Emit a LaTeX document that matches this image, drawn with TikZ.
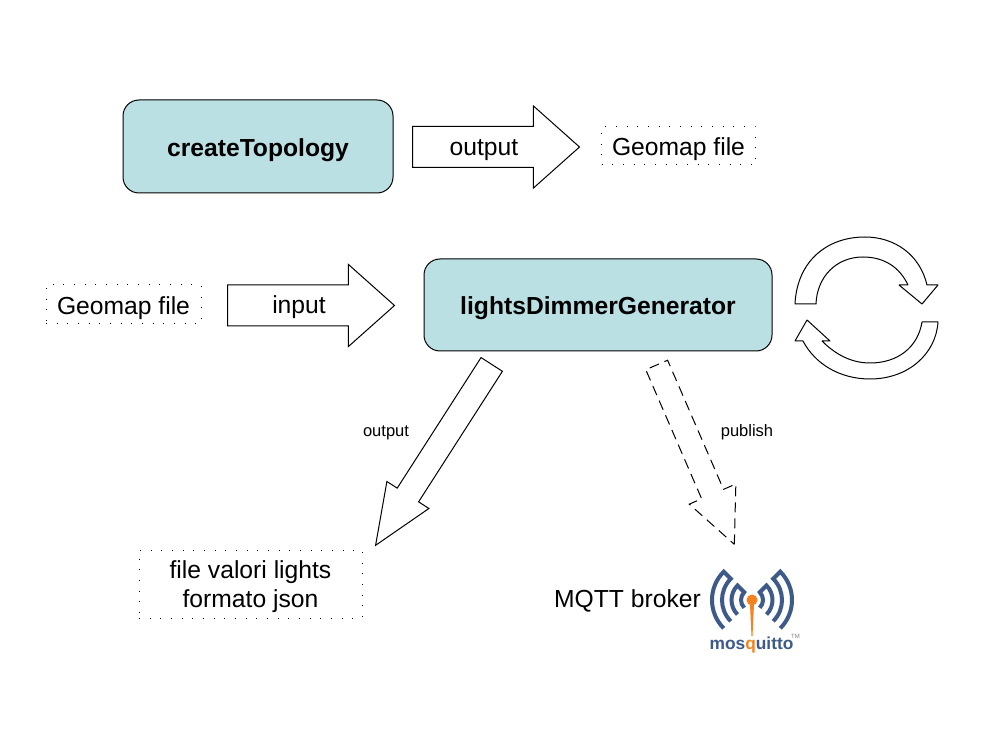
\documentclass[tikz,border=0pt]{standalone}
\usepackage{fontspec}
\setmainfont{Liberation Sans}
\usetikzlibrary{shapes.arrows}
\definecolor{boxfill}{HTML}{BBE0E3}
\definecolor{mosqblue}{HTML}{3D5A8A}
\definecolor{mosqorange}{HTML}{F58220}
\newcommand{\mosqside}{%
  (135:40) arc[start angle=135,end angle=225,radius=40]
  -- (225:30) arc[start angle=225,end angle=135,radius=30]
  (135:20.5) arc[start angle=135,end angle=225,radius=20.5]
  -- (225:11) arc[start angle=225,end angle=135,radius=11]}
\tikzset{
  process/.style={draw=black,fill=boxfill,line width=0.75pt,rounded corners=12pt,inner sep=0pt,
    font=\fontsize{18.5pt}{22pt}\selectfont\bfseries,text height=15pt,text depth=0pt},
  dotbox/.style={draw=black,line width=0.75pt,dash pattern=on 0.75pt off 7.25pt,inner sep=0pt,
    font=\fontsize{18.5pt}{22pt}\selectfont,text height=15pt,text depth=0pt},
  bigtext/.style={font=\fontsize{18.5pt}{22pt}\selectfont,inner sep=0pt,anchor=base},
  smalltext/.style={font=\fontsize{12.4pt}{15pt}\selectfont,inner sep=0pt,anchor=base},
  blockarrow/.style={shape=single arrow,draw=black,fill=white,line width=0.75pt,inner sep=0pt,anchor=tail},
  wide/.style={blockarrow,minimum height=125.25pt,
    single arrow head extend=15.4pt,single arrow tip angle=83.4},
  looparrow/.style={draw=black,fill=white,line width=0.75pt,line join=round}
}
\begin{document}
\begin{tikzpicture}[x=0.75pt,y=-0.75pt]
\useasboundingbox[fill=white] (0,0) rectangle (983,738);
% main boxes
\node[process,minimum width=202.5pt,minimum height=69.75pt] (topo) at (258,146.5) {createTopology};
\node[process,minimum width=261pt,minimum height=69pt] (gen) at (598,305) {lightsDimmerGenerator};
% dotted boxes
\node[dotbox,minimum width=115.5pt,minimum height=28.5pt] (geoA) at (678.5,146) {Geomap file};
\node[dotbox,minimum width=116.25pt,minimum height=29.25pt] (geoB) at (123.5,304.5) {Geomap file};
\node[dotbox,minimum width=167.25pt,minimum height=51pt] (json) at (250.5,584) {};
\node[font=\fontsize{18.5pt}{21.75pt}\selectfont,inner sep=0pt,align=center] (jsonlabel) at (250.5,586.5)
  {file valori lights\\formato json};
% horizontal block arrows
\node[wide] (outA) at (412,147) {\rule{0pt}{30pt}};
\node[wide] (inA) at (227,305.5) {\rule{0pt}{30pt}};
\node[bigtext] (outAlabel) at (484,156) {output};
\node[bigtext] (inAlabel) at (299,314) {input};
% diagonal block arrows
\node[blockarrow,rotate=-122.7,minimum height=161.25pt,
  single arrow head extend=9.2pt,single arrow tip angle=45.3] (outB) at (492,364) {\rule{0pt}{18.3pt}};
\node[blockarrow,rotate=-66.6,dash pattern=on 7.5pt off 4.5pt,minimum height=146.6pt,
  single arrow head extend=10.1pt,single arrow tip angle=49.7] (pubA) at (656.5,364.5) {\rule{0pt}{17.1pt}};
\node[smalltext] (outBlabel) at (386,436) {output};
\node[smalltext] (pubAlabel) at (747,436) {publish};
% loop arrows
\draw[looparrow] (795,304) .. controls (797,262) and (826,237) .. (865,237)
  .. controls (895,237) and (920,255) .. (927,285) -- (938,285) -- (922,304) -- (899,285) -- (908,285)
  .. controls (900,268) and (885,257) .. (863,257) .. controls (836,257) and (817,277) .. (816,304) -- cycle;
\draw[looparrow] (922,322) .. controls (918,347) and (898,363) .. (870,363)
  .. controls (852,363) and (836,355) .. (822,341) -- (830,341) -- (807,320) -- (795,341) -- (803,341)
  .. controls (815,364) and (840,379) .. (870,379) .. controls (908,379) and (936,354) .. (938,322) -- cycle;
% broker
\node[bigtext] (mqtt) at (627.5,607.5) {MQTT broker};
\begin{scope}[shift={(752,600)}]
  \draw[mosqblue,line width=3pt,miter limit=4] \mosqside;
  \begin{scope}[xscale=-1]
    \draw[mosqblue,line width=3pt,miter limit=4] \mosqside;
  \end{scope}
  \fill[mosqorange] (-2.2,0) -- (2.2,0) -- (0.5,36) -- (-0.5,36) -- cycle;
  \fill[mosqorange] (0,0) circle[radius=5.5];
\end{scope}
\node[font=\fontsize{13pt}{15pt}\selectfont\bfseries,text=mosqblue,inner sep=0pt,anchor=base] (logo) at (751.5,649)
  {mos\textcolor{mosqorange}{q}uitto};
\node[font=\fontsize{4.5pt}{5pt}\selectfont,text=gray,inner sep=0pt] (tm) at (795.5,636) {TM};
\end{tikzpicture}
\end{document}
